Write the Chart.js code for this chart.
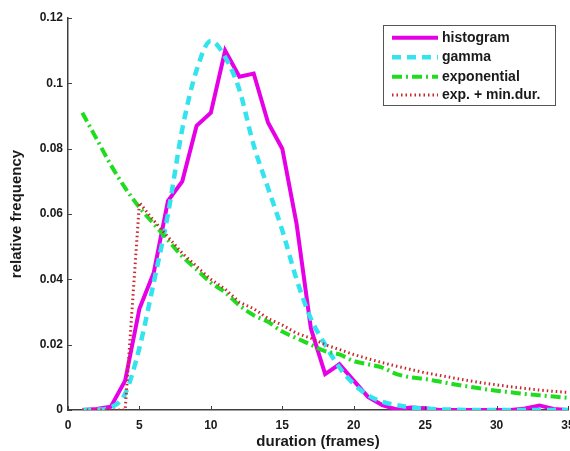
<!DOCTYPE html>
<html><head><meta charset="utf-8">
<script src="https://cdn.jsdelivr.net/npm/chart.js@4.4.1/dist/chart.umd.min.js"></script>
<style>html,body{margin:0;padding:0;background:#fff;}#wrap{width:570px;height:451px;position:relative;}</style>
</head><body><div id="wrap"><canvas id="c" width="570" height="451"></canvas></div>
<script>
// ---- data ----
const durations = [1,2,3,4,5,6,7,8,9,10,11,12,13,14,15,16,17,18,19,20,21,22,23,24,25,26,27,28,29,30,31,32,33,34,35];
const histogram = [0,0.0003,0.001,0.009,0.031,0.042,0.064,0.070,0.087,0.091,0.110,0.102,0.103,0.088,0.080,0.057,0.025,0.011,0.014,0.009,0.004,0.0015,0.0002,0.0008,0.0005,0,0,0,0,0,0,0.0005,0.0014,0.0003,0];
const gamma = [0,0.0001,0.0008,0.005,0.019,0.039,0.060,0.086,0.104,0.113,0.108,0.098,0.081,0.068,0.055,0.040,0.028,0.020,0.013,0.008,0.0045,0.0025,0.0015,0.0008,0.0004,0.0002,0.0001,0,0,0,0,0,0,0,0];
const exponential = [0.091,0.083,0.075,0.068,0.062,0.057,0.052,0.047,0.043,0.039,0.036,0.032,0.029,0.027,0.024,0.022,0.020,0.018,0.017,0.015,0.014,0.013,0.011,0.010,0.0095,0.0087,0.0079,0.0072,0.0065,0.0059,0.0054,0.0049,0.0045,0.0041,0.0037];
const expMinDur = [0,0,0,0,0.0635,0.058,0.053,0.048,0.044,0.040,0.037,0.033,0.031,0.028,0.026,0.0235,0.022,0.020,0.0185,0.017,0.0157,0.0145,0.0134,0.0124,0.0114,0.0106,0.0098,0.009,0.0083,0.0077,0.0071,0.0066,0.0061,0.0057,0.0054];
const seriesLabels = ['histogram','gamma','exponential','exp. + min.dur.'];
const xTickValues = [0,5,10,15,20,25,30,35];
const xTickLabels = ['0','5','10','15','20','25','30','35'];
const yTickValues = [0,0.02,0.04,0.06,0.08,0.1,0.12];
const yTickLabels = ['0','0.02','0.04','0.06','0.08','0.1','0.12'];
const xTitle = 'duration (frames)';
const yTitle = 'relative frequency';

const FONT = '"Liberation Sans", Arial, Helvetica, sans-serif';
const pts = arr => durations.map((d,i)=>({x:d,y:arr[i]}));

const inwardTicks = {
  id:'inwardTicks',
  afterDraw(chart){
    const {ctx, chartArea:a, scales:{x,y}} = chart;
    ctx.save(); ctx.strokeStyle='#404040'; ctx.lineWidth=1;
    xTickValues.forEach(v=>{const p=Math.round(x.getPixelForValue(v))+0.5; ctx.beginPath(); ctx.moveTo(p,a.bottom); ctx.lineTo(p,a.bottom-4); ctx.stroke();});
    yTickValues.forEach(v=>{const p=Math.round(y.getPixelForValue(v))+0.5; ctx.beginPath(); ctx.moveTo(a.left,p); ctx.lineTo(a.left+4,p); ctx.stroke();});
    ctx.restore();
  }
};

const boxLegend = {
  id:'boxLegend',
  afterDraw(chart){
    const ctx = chart.ctx;
    const bx=383, by=25, bw=172, bh=80;
    ctx.save();
    ctx.fillStyle='#fff'; ctx.fillRect(bx,by,bw,bh);
    ctx.strokeStyle='#555'; ctx.lineWidth=1; ctx.strokeRect(bx+0.5,by+0.5,bw,bh);
    const rows=[37.7,57.3,76.7,95];
    chart.data.datasets.forEach((ds,i)=>{
      const yy=rows[i];
      ctx.strokeStyle=ds.borderColor; ctx.lineWidth=ds.borderWidth; ctx.setLineDash(ds.borderDash||[]);
      ctx.lineCap='butt';
      ctx.beginPath(); ctx.moveTo(392,yy); ctx.lineTo(438,yy); ctx.stroke();
      ctx.setLineDash([]);
      ctx.fillStyle='#1a1a1a'; ctx.font='bold 14px '+FONT; ctx.textBaseline='middle'; ctx.textAlign='left';
      ctx.fillText(ds.label,442,yy);
    });
    ctx.restore();
  }
};

const noPad = s => { s.paddingLeft=0; s.paddingRight=0; s.paddingTop=0; s.paddingBottom=0; };

new Chart(document.getElementById('c'), {
  type:'line',
  data:{datasets:[
    {label:seriesLabels[0], data:pts(histogram), borderColor:'#e600e6', borderWidth:4, pointRadius:0, tension:0, order:4},
    {label:seriesLabels[1], data:pts(gamma), borderColor:'#33e4ef', borderWidth:4.5, borderDash:[9,6], pointRadius:0, cubicInterpolationMode:'monotone', order:3},
    {label:seriesLabels[2], data:pts(exponential), borderColor:'#1fdc1f', borderWidth:4, borderDash:[10,4,2,4], pointRadius:0, cubicInterpolationMode:'monotone', order:2},
    {label:seriesLabels[3], data:pts(expMinDur), borderColor:'#c8282d', borderWidth:3, borderDash:[1.5,3], pointRadius:0, tension:0, order:1}
  ]},
  options:{
    responsive:false, animation:false, devicePixelRatio:1,
    layout:{autoPadding:false, padding:{top:18,right:2,bottom:0,left:0}},
    plugins:{legend:{display:false}, tooltip:{enabled:false}},
    scales:{
      x:{type:'linear', min:0, max:35,
        afterBuildTicks:s=>{s.ticks=xTickValues.map(v=>({value:v}));},
        afterFit:s=>{s.height=41; noPad(s);},
        grid:{display:false, drawTicks:false},
        border:{display:true,color:'#404040',width:1.5},
        ticks:{padding:8, color:'#1a1a1a', font:{family:FONT,size:12,weight:'bold'}, maxRotation:0, autoSkip:false,
          callback:(v,i)=>xTickLabels[i]},
        title:{display:true, text:xTitle, color:'#1a1a1a', padding:{top:0,bottom:0}, font:{family:FONT,size:15,weight:'bold'}}
      },
      y:{type:'linear', min:0, max:0.12,
        afterBuildTicks:s=>{s.ticks=yTickValues.map(v=>({value:v}));},
        afterFit:s=>{s.width=68; noPad(s);},
        grid:{display:false, drawTicks:false},
        border:{display:true,color:'#404040',width:1.5},
        ticks:{padding:5, color:'#1a1a1a', font:{family:FONT,size:12,weight:'bold'}, autoSkip:false,
          callback:(v,i)=>yTickLabels[i]},
        title:{display:true, text:yTitle, color:'#1a1a1a', padding:{top:8,bottom:0}, font:{family:FONT,size:15,weight:'bold'}}
      }
    }
  },
  plugins:[inwardTicks, boxLegend]
});
</script></body></html>
